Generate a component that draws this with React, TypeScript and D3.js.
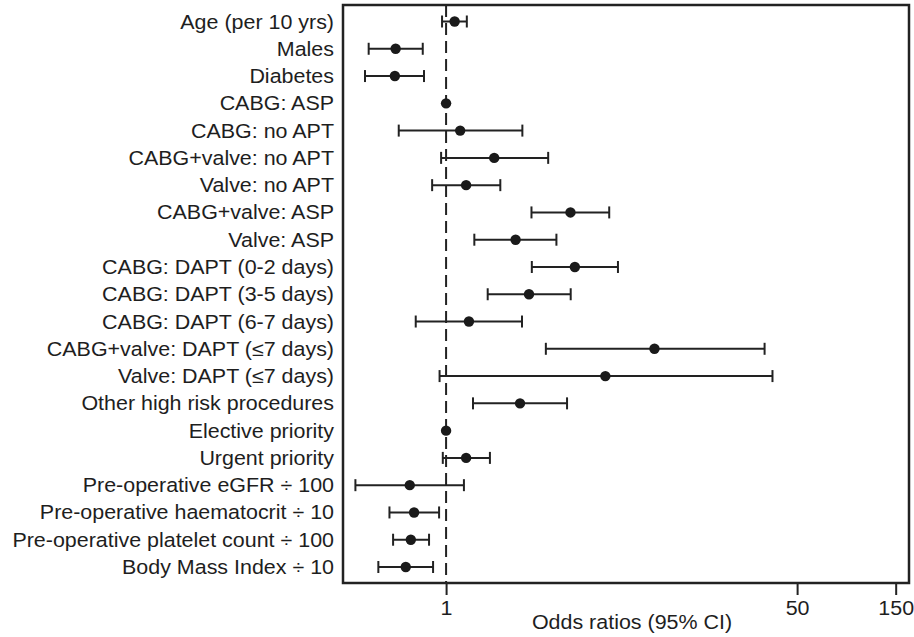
import React, { useRef, useEffect } from "react";
import * as d3 from "d3";

const labels = [
  "Age (per 10 yrs)",
  "Males",
  "Diabetes",
  "CABG: ASP",
  "CABG: no APT",
  "CABG+valve: no APT",
  "Valve: no APT",
  "CABG+valve: ASP",
  "Valve: ASP",
  "CABG: DAPT (0-2 days)",
  "CABG: DAPT (3-5 days)",
  "CABG: DAPT (6-7 days)",
  "CABG+valve: DAPT (\u22647 days)",
  "Valve: DAPT (\u22647 days)",
  "Other high risk procedures",
  "Elective priority",
  "Urgent priority",
  "Pre-operative eGFR \u00f7 100",
  "Pre-operative haematocrit \u00f7 10",
  "Pre-operative platelet count \u00f7 100",
  "Body Mass Index \u00f7 10",
];

// odds ratio with lower / upper 95% CI (null = reference category)
const oddsRatio = [1.1, 0.57, 0.565, 1, 1.17, 1.71, 1.25, 4.0, 2.17, 4.2, 2.52, 1.29, 10.2, 5.9, 2.28, 1, 1.25, 0.667, 0.7, 0.675, 0.638];
const lowerCI: (number | null)[] = [0.956, 0.422, 0.405, null, 0.59, 0.946, 0.856, 2.59, 1.37, 2.6, 1.59, 0.713, 3.04, 0.93, 1.35, null, 0.964, 0.364, 0.532, 0.554, 0.47];
const upperCI: (number | null)[] = [1.26, 0.771, 0.782, null, 2.34, 3.12, 1.83, 6.16, 3.42, 6.79, 4.01, 2.33, 34.8, 38.0, 3.85, null, 1.63, 1.22, 0.925, 0.827, 0.865];

const xTicks = [1, 50, 150];

export default function App() {
  const ref = useRef<SVGSVGElement | null>(null);

  useEffect(() => {
    const width = 914;
    const height = 637;
    const frame = { left: 343, right: 909, top: 5, bottom: 583 };
    const font = "'Liberation Sans', Arial, Helvetica, sans-serif";
    const fontSize = "19.5px";
    // glyphs in the reference are a little wider than plain Arial
    const stretch = "scale(1.1,1)";

    const svg = d3.select(ref.current);
    svg.selectAll("*").remove();
    svg.attr("width", width).attr("height", height);

    const x = d3
      .scaleLog()
      .domain([0.317, 174])
      .range([frame.left, frame.right]);
    const y = d3.scalePoint<string>().domain(labels).range([21.5, 567]);

    // reference line at OR = 1
    svg
      .append("line")
      .attr("x1", x(1))
      .attr("x2", x(1))
      .attr("y1", frame.top)
      .attr("y2", frame.bottom)
      .attr("stroke", "#222")
      .attr("stroke-width", 2)
      .attr("stroke-dasharray", "12 6");

    // row labels
    svg
      .append("g")
      .selectAll("text")
      .data(labels)
      .enter()
      .append("text")
      .attr("transform", (d) => `translate(334,${y(d)}) ${stretch}`)
      .attr("dy", "0.36em")
      .attr("text-anchor", "end")
      .attr("fill", "#1e1e1e")
      .style("font-family", font)
      .style("font-size", fontSize)
      .text((d) => d);

    const rows = labels.map((label, i) => ({
      label,
      or: oddsRatio[i],
      lo: lowerCI[i],
      hi: upperCI[i],
    }));

    const g = svg.append("g").attr("stroke", "#222").attr("stroke-width", 2);
    const ci = rows.filter((d) => d.lo !== null && d.hi !== null);

    g.selectAll(".ci")
      .data(ci)
      .enter()
      .append("line")
      .attr("x1", (d) => x(d.lo!))
      .attr("x2", (d) => x(d.hi!))
      .attr("y1", (d) => y(d.label)!)
      .attr("y2", (d) => y(d.label)!);

    g.selectAll(".capLo")
      .data(ci)
      .enter()
      .append("line")
      .attr("x1", (d) => x(d.lo!))
      .attr("x2", (d) => x(d.lo!))
      .attr("y1", (d) => y(d.label)! - 6)
      .attr("y2", (d) => y(d.label)! + 6);

    g.selectAll(".capHi")
      .data(ci)
      .enter()
      .append("line")
      .attr("x1", (d) => x(d.hi!))
      .attr("x2", (d) => x(d.hi!))
      .attr("y1", (d) => y(d.label)! - 6)
      .attr("y2", (d) => y(d.label)! + 6);

    svg
      .append("g")
      .selectAll("circle")
      .data(rows)
      .enter()
      .append("circle")
      .attr("cx", (d) => x(d.or))
      .attr("cy", (d) => y(d.label)!)
      .attr("r", 5.2)
      .attr("fill", "#1a1a1a");

    // frame
    svg
      .append("rect")
      .attr("x", frame.left)
      .attr("y", frame.top)
      .attr("width", frame.right - frame.left)
      .attr("height", frame.bottom - frame.top)
      .attr("fill", "none")
      .attr("stroke", "#222")
      .attr("stroke-width", 2.5);

    // x axis
    const axis = svg
      .append("g")
      .attr("transform", `translate(0,${frame.bottom})`)
      .call(
        d3
          .axisBottom(x)
          .tickValues(xTicks)
          .tickFormat(d3.format("d") as any)
          .tickSize(12)
          .tickPadding(6) as any
      );
    axis.select(".domain").remove();
    axis.selectAll("line").attr("stroke", "#222").attr("stroke-width", 2);
    axis
      .selectAll("text")
      .attr("transform", stretch)
      .attr("fill", "#1e1e1e")
      .style("font-family", font)
      .style("font-size", fontSize);

    svg
      .append("text")
      .attr("transform", `translate(632,629) ${stretch}`)
      .attr("text-anchor", "middle")
      .attr("fill", "#1e1e1e")
      .style("font-family", font)
      .style("font-size", fontSize)
      .text("Odds ratios (95% CI)");
  }, []);

  return (
    <svg
      ref={ref}
      style={{ position: "absolute", left: 0, top: 0, background: "#fff" }}
    />
  );
}
